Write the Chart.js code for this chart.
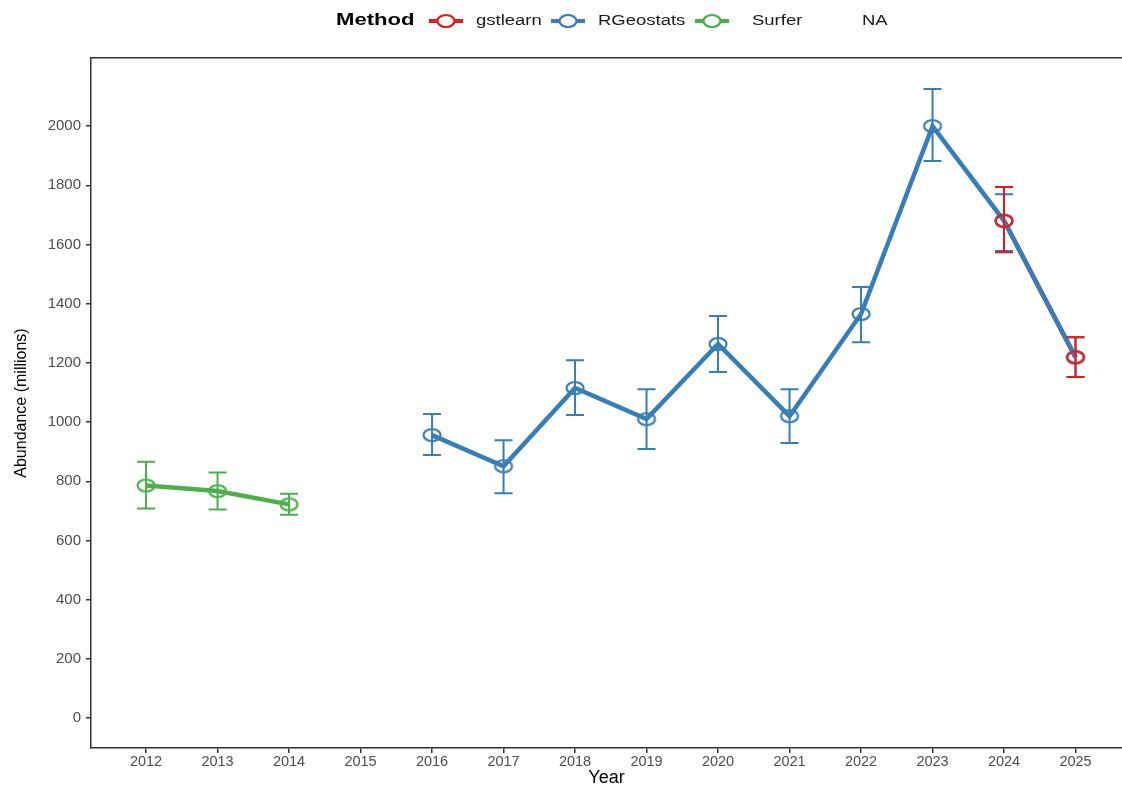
<!DOCTYPE html>
<html>
<head>
<meta charset="utf-8">
<script src="https://cdn.jsdelivr.net/npm/chart.js@4"></script>
<style>
  body { margin: 0; background: #fff; overflow: hidden; }
  #wrap { width: 1122px; height: 787px; position: relative; }
</style>
</head>
<body>
<div id="wrap"><canvas id="myChart"></canvas></div>
<script>
"use strict";
// data
const years = [2012, 2013, 2014, 2015, 2016, 2017, 2018, 2019, 2020, 2021, 2022, 2023, 2024, 2025];
const yTicks = [0, 200, 400, 600, 800, 1000, 1200, 1400, 1600, 1800, 2000];

const surferMean = [786, 767, 722, null, null, null, null, null, null, null, null, null, null, null];
const surferLow  = [708, 705, 687, null, null, null, null, null, null, null, null, null, null, null];
const surferHigh = [866, 830, 758, null, null, null, null, null, null, null, null, null, null, null];

const rgeoMean = [null, null, null, null, 956, 851, 1115, 1010, 1264, 1020, 1365, 2000, 1680, 1219];
const rgeoLow  = [null, null, null, null, 889, 760, 1024, 909, 1169, 929, 1270, 1882, 1578, 1152];
const rgeoHigh = [null, null, null, null, 1027, 939, 1209, 1111, 1358, 1111, 1456, 2125, 1770, 1287];

const gstMean = [null, null, null, null, null, null, null, null, null, null, null, null, 1680, 1219];
const gstLow  = [null, null, null, null, null, null, null, null, null, null, null, null, 1574, 1152];
const gstHigh = [null, null, null, null, null, null, null, null, null, null, null, null, 1794, 1287];

const legendNames = ["gstlearn", "RGeostats", "Surfer", "NA"];

const RED = "#E41A1C", BLUE = "#377EB8", GREEN = "#4DAF4A";
const FONT = "'Liberation Sans', Arial, sans-serif";

function pts(vals) {
    return years.map((yr, i) => ({ x: yr, y: vals[i] }));
}

// open ellipse marker (the picture is a bit stretched sideways)
function ring(color) {
    const c = document.createElement("canvas");
    c.width = 22; c.height = 16;
    const g = c.getContext("2d");
    g.strokeStyle = color;
    g.lineWidth = 2.2;
    g.beginPath();
    g.ellipse(11, 8, 8.5, 6, 0, 0, Math.PI * 2);
    g.stroke();
    return c;
}

function lineSet(vals, color) {
    return {
        data: pts(vals), borderColor: color, borderWidth: 4.5,
        pointRadius: 0, spanGaps: false, order: 10, fill: false
    };
}
function pointSet(vals, low, high, color) {
    return {
        data: pts(vals), showLine: false, pointStyle: ring(color),
        pointRadius: 8, order: 1, borderColor: color,
        errLow: low, errHigh: high, errColor: color
    };
}

const errorBars = {
    id: "errorBars",
    afterDatasetsDraw(chart) {
        const ctx = chart.ctx;
        const xs = chart.scales.x, ys = chart.scales.y;
        // draw blue first, red on top
        const sets = chart.data.datasets.filter(d => d.errLow);
        [BLUE, GREEN, RED].forEach(col => {
            sets.filter(d => d.errColor === col).forEach(d => {
                ctx.save();
                ctx.strokeStyle = col;
                ctx.lineWidth = 2;
                years.forEach((yr, i) => {
                    if (d.errLow[i] == null) return;
                    const x = xs.getPixelForValue(yr);
                    const y1 = ys.getPixelForValue(d.errLow[i]);
                    const y2 = ys.getPixelForValue(d.errHigh[i]);
                    ctx.beginPath();
                    ctx.moveTo(x, y1); ctx.lineTo(x, y2);
                    ctx.moveTo(x - 9, y1); ctx.lineTo(x + 9, y1);
                    ctx.moveTo(x - 9, y2); ctx.lineTo(x + 9, y2);
                    ctx.stroke();
                });
                ctx.restore();
            });
        });
    }
};

// text drawn wider, like the stretched picture
function wideText(ctx, text, x, y, sx) {
    ctx.save();
    ctx.translate(x, y);
    ctx.scale(sx, 1);
    ctx.fillText(text, 0, 0);
    ctx.restore();
}

const topLegend = {
    id: "topLegend",
    afterDraw(chart) {
        const ctx = chart.ctx;
        const y = 21;
        ctx.save();
        ctx.textBaseline = "middle";
        ctx.fillStyle = "#000";
        ctx.font = "bold 16px " + FONT;
        wideText(ctx, "Method", 336, y, 1.38);
        const keys = [[446, RED, 476], [568, BLUE, 598], [712, GREEN, 752], [null, null, 862]];
        ctx.font = "14px " + FONT;
        keys.forEach((k, i) => {
            if (k[0] != null) {
                ctx.strokeStyle = k[1];
                ctx.lineWidth = 4;
                ctx.beginPath();
                ctx.moveTo(k[0] - 17, y); ctx.lineTo(k[0] + 17, y);
                ctx.stroke();
                ctx.fillStyle = "#fff";
                ctx.lineWidth = 2.2;
                ctx.beginPath();
                ctx.ellipse(k[0], y, 8.5, 6, 0, 0, Math.PI * 2);
                ctx.fill();
                ctx.stroke();
            }
            ctx.fillStyle = "#1a1a1a";
            wideText(ctx, legendNames[i], k[2], y, 1.32);
        });
        ctx.restore();
    }
};

const ctx = document.getElementById("myChart");
const myChart = new Chart(ctx, {
    type: "line",
    data: {
        datasets: [
            pointSet(gstMean, gstLow, gstHigh, RED),
            pointSet(rgeoMean, rgeoLow, rgeoHigh, BLUE),
            pointSet(surferMean, surferLow, surferHigh, GREEN),
            lineSet(rgeoMean, BLUE),
            lineSet(surferMean, GREEN),
            Object.assign(lineSet(gstMean, RED), { order: 11 })
        ]
    },
    options: {
        responsive: true,
        maintainAspectRatio: false,
        animation: false,
        layout: { autoPadding: false, padding: { top: 58, left: 0, right: 0, bottom: 0 } },
        plugins: { legend: { display: false }, tooltip: { enabled: false } },
        scales: {
            x: {
                type: "linear", position: "bottom",
                min: 2011.23, max: 2025.65,
                afterBuildTicks: s => { s.ticks = years.map(v => ({ value: v })); },
                afterFit: s => { s.height = 39; s.paddingLeft = 0; s.paddingRight = 0; },
                ticks: { color: "#4d4d4d", font: { family: FONT, size: 14.5 }, padding: 0,
                         autoSkip: false, maxRotation: 0, callback: v => String(v) },
                grid: { drawOnChartArea: false, drawTicks: true, tickLength: 5, color: "#333", lineWidth: 1.5 },
                border: { display: true, color: "#333", width: 1.5 },
                title: { display: true, text: "Year", color: "#000",
                         font: { family: FONT, size: 18, lineHeight: 1 },
                         padding: { top: 0, bottom: 0 } }
            },
            xTop: {
                type: "linear", position: "top", min: 2011.23, max: 2025.65,
                afterFit: s => { s.height = 0; s.paddingLeft = 0; s.paddingRight = 0; },
                ticks: { display: false },
                grid: { display: false, drawTicks: false },
                border: { display: true, color: "#333", width: 1.5 }
            },
            y: {
                min: -101, max: 2230,
                afterBuildTicks: s => { s.ticks = yTicks.map(v => ({ value: v })); },
                afterFit: s => { s.width = 91; },
                ticks: { color: "#4d4d4d", font: { family: FONT, size: 15 }, padding: 5,
                         callback: v => String(v) },
                grid: { drawOnChartArea: false, drawTicks: true, tickLength: 5, color: "#333", lineWidth: 1.5 },
                border: { display: true, color: "#333", width: 1.5 },
                title: { display: true, text: "Abundance (millions)", color: "#000",
                         font: { family: FONT, size: 16 }, padding: { top: 12, bottom: 0 } }
            }
        }
    },
    plugins: [errorBars, topLegend]
});
</script>
</body>
</html>
